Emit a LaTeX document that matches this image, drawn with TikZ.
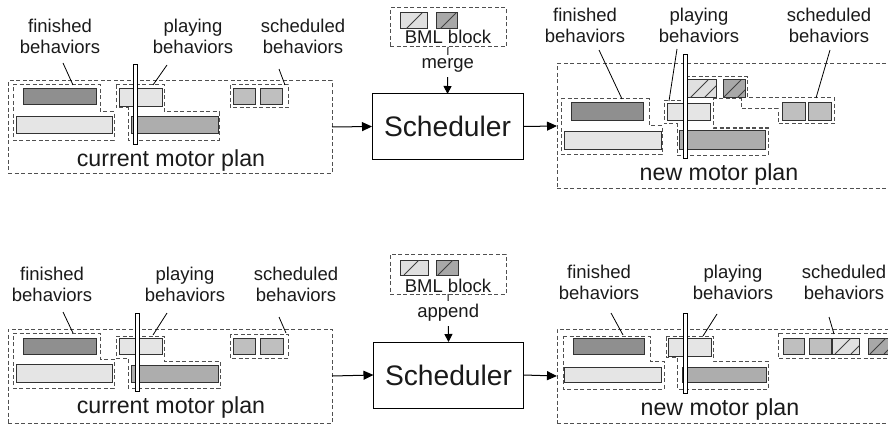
\documentclass[tikz,border=0pt]{standalone}
\usepackage{fontspec}
\setmainfont{Liberation Sans}
\usetikzlibrary{arrows.meta}
\definecolor{cdark}{HTML}{8F8F8F}
\definecolor{clight}{HTML}{E5E5E5}
\definecolor{cmed}{HTML}{ADADAD}
\definecolor{csched}{HTML}{BFBFBF}
\definecolor{chlight}{HTML}{E0E0E0}
\definecolor{chmed}{HTML}{A8A8A8}
\definecolor{borderc}{HTML}{333333}
\definecolor{dashc}{HTML}{505050}
\definecolor{textc}{HTML}{1A1A1A}
\newcommand\lblfont{\fontsize{18.5}{21.5}\selectfont}
\newcommand\planfont{\fontsize{23.2}{26}\selectfont}
\newcommand\schfont{\fontsize{28.2}{32}\selectfont}
\newcommand\mybox[6]{\node[#6, minimum width={(#4)-(#2)}, minimum height={(#5)-(#3)}] (#1) at ({((#2)+(#4))/2},{((#3)+(#5))/2}) {};}
\newcommand\hatchlines[5]{%
  \begin{scope}
    \clip (#1,#2) rectangle (#3,#4);
    \foreach \a in {#5} {\draw[hatchline] ({#1+\a},#4) -- ++({(#4)-(#2)},{-((#4)-(#2))});}
  \end{scope}}
\begin{document}
\begin{tikzpicture}[x=1pt,y=-1pt,
  dashline/.style={draw=dashc, line width=1pt, dash pattern=on 4pt off 2.5pt},
  bar/.style={draw=borderc, line width=1pt, inner sep=0pt, outer sep=0pt},
  darkbar/.style={bar, fill=cdark},
  lightbar/.style={bar, fill=clight},
  medbar/.style={bar, fill=cmed},
  schedsq/.style={bar, fill=csched},
  hlight/.style={bar, fill=chlight},
  hmed/.style={bar, fill=chmed},
  hatchline/.style={draw=black!75, line width=0.8pt},
  planbox/.style={dashline, inner sep=0pt, outer sep=0pt},
  timebar/.style={draw=black, fill=white, line width=0.9pt, inner sep=0pt, outer sep=0pt},
  pointer/.style={draw=black, line width=0.8pt},
  flow/.style={draw=black, line width=1pt, -{Triangle[length=10pt,width=9pt]}},
  flowv/.style={draw=black, line width=1pt, -{Triangle[length=8pt,width=8pt]}},
  lbl/.style={anchor=north, align=center, inner sep=0pt, font=\lblfont, text=textc},
  plantext/.style={anchor=base, inner sep=0pt, font=\planfont, text=textc},
  schedbox/.style={draw=black, line width=1pt, fill=white, inner sep=0pt, outer sep=0pt, font=\schfont, text=textc},
  opname/.style={fill=white, inner sep=4pt, font=\lblfont, text=textc}
]
\useasboundingbox (0,0) rectangle (888,425);
\clip (0,0) rectangle (888,425);

%================ TOP ROW ================
% ---- current motor plan (top-left)
\mybox{tlplan}{8}{81}{332}{173}{planbox}
\node[plantext] (tlplantxt) at (171,166) {current motor plan};
\draw[dashline] (13,85) -- (100,85) -- (100,112) -- (114,112) -- (114,140) -- (13,140) -- cycle;
\draw[dashline] (116,85) -- (164,85) -- (164,112) -- (219,112) -- (219,140) -- (128,140) -- (128,108) -- (116,108) -- cycle;
\draw[dashline] (230,85) rectangle (288,108);
\mybox{tlfinA}{23}{89}{96}{105}{darkbar}
\mybox{tlfinB}{16}{117}{112}{133}{lightbar}
\mybox{tlplayA}{119}{89}{162}{107}{lightbar}
\mybox{tlplayB}{131}{117}{218}{133}{medbar}
\mybox{tlschA}{233}{89}{255}{105}{schedsq}
\mybox{tlschB}{260}{89}{282}{105}{schedsq}
\mybox{tltime}{133}{64}{137}{144}{timebar}
\node[lbl] (tlfinlbl) at (60,18.5) {finished\\behaviors};
\node[lbl] (tlplaylbl) at (193,18.5) {playing\\behaviors};
\node[lbl] (tlschlbl) at (303,18.5) {scheduled\\behaviors};
\coordinate (tlp1a) at (63,63);  \coordinate (tlp1b) at (73,85);
\coordinate (tlp2a) at (167,65); \coordinate (tlp2b) at (153,85);
\coordinate (tlp3a) at (279,69); \coordinate (tlp3b) at (285,85);
\draw[pointer] (tlp1a) -- (tlp1b);
\draw[pointer] (tlp2a) -- (tlp2b);
\draw[pointer] (tlp3a) -- (tlp3b);

% ---- BML block + scheduler (top-middle)
\mybox{tbml}{390}{8}{506}{47}{planbox}
\mybox{tbmlA}{400}{13}{427}{29}{hlight}
\hatchlines{400}{13}{427}{29}{6}
\mybox{tbmlB}{436}{13}{457}{29}{hmed}
\hatchlines{436}{13}{457}{29}{4}
\node[plantext, font=\lblfont] (tbmltxt) at (448,44) {BML block};
\node[schedbox, minimum width=151, minimum height=65] (tsch) at (447.5,126.5) {Scheduler};
\draw[flowv] (tbml.south) -- node[opname, pos=0.40] {merge} (tsch.north);
\draw[flow] (tlplan.east) -- (tsch.west);

% ---- new motor plan (top-right)
\mybox{trplan}{557}{64}{900}{188}{planbox}
\draw[flow] (tsch.east) -- (trplan.west);
\node[plantext] (trplantxt) at (719,180) {new motor plan};
\draw[dashline] (561,99) -- (649,99) -- (649,126) -- (662,126) -- (662,154) -- (561,154) -- cycle;
\draw[dashline] (664,101) -- (686,101) -- (686,77) -- (747,77) -- (747,98) -- (834,98) -- (834,124) -- (778,124) -- (778,109) -- (741,109) -- (741,99) -- (713,99) -- (713,128) -- (768,128) -- (768,155) -- (677,155) -- (677,124) -- (664,124) -- cycle;
\mybox{trfinA}{571}{103}{643}{121}{darkbar}
\mybox{trfinB}{564}{131}{661}{149}{lightbar}
\mybox{trplayA}{667}{104}{710}{121}{lightbar}
\mybox{trplayB}{679}{130}{765}{149}{medbar}
\mybox{trnewA}{686}{80}{716}{98}{hlight}
\hatchlines{686}{80}{716}{98}{4,18}
\mybox{trnewB}{723}{80}{745}{98}{hmed}
\hatchlines{723}{80}{745}{98}{0,14}
\mybox{trschA}{782}{103}{805}{121}{schedsq}
\mybox{trschB}{808}{103}{831}{121}{schedsq}
\mybox{trtime}{683}{54}{687}{158}{timebar}
\node[lbl] (trfinlbl) at (585,7.5) {finished\\behaviors};
\node[lbl] (trplaylbl) at (699,7.5) {playing\\behaviors};
\node[lbl] (trschlbl) at (829,7.5) {scheduled\\behaviors};
\coordinate (trp1a) at (599,50); \coordinate (trp1b) at (622,99);
\coordinate (trp2a) at (677,49); \coordinate (trp2b) at (669,101);
\coordinate (trp3a) at (830,50); \coordinate (trp3b) at (816,98);
\draw[pointer] (trp1a) -- (trp1b);
\draw[pointer] (trp2a) -- (trp2b);
\draw[pointer] (trp3a) -- (trp3b);

%================ BOTTOM ROW ================
% ---- current motor plan (bottom-left)
\mybox{blplan}{8}{329}{332}{423}{planbox}
\node[plantext] (blplantxt) at (171,413) {current motor plan};
\draw[dashline] (13,333) -- (100,333) -- (100,359) -- (114,359) -- (114,388) -- (13,388) -- cycle;
\draw[dashline] (116,336) -- (164,336) -- (164,361) -- (220,361) -- (220,388) -- (128,388) -- (128,358) -- (116,358) -- cycle;
\draw[dashline] (230,334) rectangle (288,358);
\mybox{blfinA}{23}{338}{96}{354}{darkbar}
\mybox{blfinB}{16}{364}{112}{382}{lightbar}
\mybox{blplayA}{119}{338}{162}{354}{lightbar}
\mybox{blplayB}{131}{365}{218}{382}{medbar}
\mybox{blschA}{233}{338}{255}{354}{schedsq}
\mybox{blschB}{260}{338}{283}{354}{schedsq}
\mybox{bltime}{135}{313}{139}{391}{timebar}
\node[lbl] (blfinlbl) at (52,266.5) {finished\\behaviors};
\node[lbl] (blplaylbl) at (185,266.5) {playing\\behaviors};
\node[lbl] (blschlbl) at (296,266.5) {scheduled\\behaviors};
\coordinate (blp1a) at (63,312);  \coordinate (blp1b) at (73,333);
\coordinate (blp2a) at (167,313); \coordinate (blp2b) at (153,335);
\coordinate (blp3a) at (279,317); \coordinate (blp3b) at (286,333);
\draw[pointer] (blp1a) -- (blp1b);
\draw[pointer] (blp2a) -- (blp2b);
\draw[pointer] (blp3a) -- (blp3b);

% ---- BML block + scheduler (bottom-middle)
\mybox{bbml}{390}{254}{506}{294}{planbox}
\mybox{bbmlA}{400}{260}{428}{275}{hlight}
\hatchlines{400}{260}{428}{275}{4}
\mybox{bbmlB}{436}{260}{458}{275}{hmed}
\hatchlines{436}{260}{458}{275}{2}
\node[plantext, font=\lblfont] (bbmltxt) at (448,292) {BML block};
\node[schedbox, minimum width=150, minimum height=66] (bsch) at (448.5,375) {Scheduler};
\draw[flowv] (bbml.south) -- node[opname, pos=0.40] {append} (bsch.north);
\draw[flow] (blplan.east) -- (bsch.west);

% ---- new motor plan (bottom-right)
\mybox{brplan}{557}{329}{900}{423}{planbox}
\draw[flow] (bsch.east) -- (brplan.west);
\node[plantext] (brplantxt) at (720,415) {new motor plan};
\draw[dashline] (563,336) -- (650,336) -- (650,361) -- (664,361) -- (664,389) -- (563,389) -- cycle;
\draw[dashline] (666,336) -- (713,336) -- (713,361) -- (768,361) -- (768,389) -- (677,389) -- (677,357) -- (666,357) -- cycle;
\draw[dashline] (778,333) rectangle (905,358);
\mybox{brfinA}{573}{338}{644}{354}{darkbar}
\mybox{brfinB}{564}{367}{661}{382}{lightbar}
\mybox{brplayA}{668}{338}{711}{356}{lightbar}
\mybox{brplayB}{682}{367}{766}{382}{medbar}
\mybox{brschA}{783}{338}{804}{354}{schedsq}
\mybox{brschB}{809}{338}{831}{354}{schedsq}
\mybox{brschC}{832}{338}{859}{354}{hlight}
\hatchlines{832}{338}{859}{354}{3,19}
\mybox{brschD}{868}{338}{895}{354}{hmed}
\hatchlines{868}{338}{895}{354}{2,16}
\mybox{brtime}{683}{313}{687}{393}{timebar}
\node[lbl] (brfinlbl) at (599,264.5) {finished\\behaviors};
\node[lbl] (brplaylbl) at (733,264.5) {playing\\behaviors};
\node[lbl] (brschlbl) at (844,264.5) {scheduled\\behaviors};
\coordinate (brp1a) at (611,313); \coordinate (brp1b) at (623,335);
\coordinate (brp2a) at (717,314); \coordinate (brp2b) at (703,336);
\coordinate (brp3a) at (829,317); \coordinate (brp3b) at (834,334);
\draw[pointer] (brp1a) -- (brp1b);
\draw[pointer] (brp2a) -- (brp2b);
\draw[pointer] (brp3a) -- (brp3b);
\end{tikzpicture}
\end{document}
